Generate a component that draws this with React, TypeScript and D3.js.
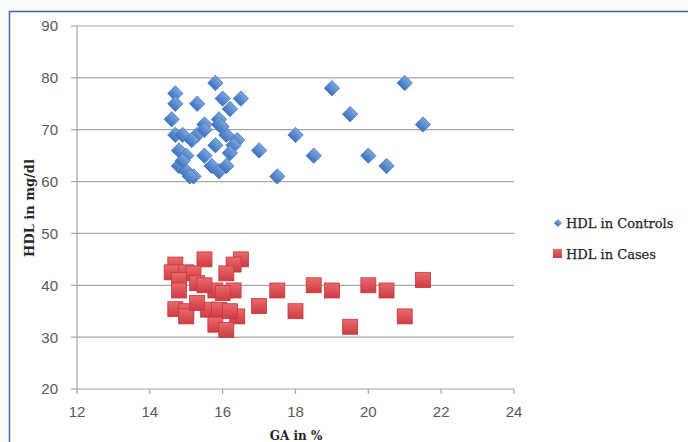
import React from "react";
import * as d3 from "d3";

const controlsGA = [15.8, 14.7, 14.7, 15.3, 16.0, 16.5, 16.2, 14.6, 15.5, 15.9, 15.9, 14.7, 14.9, 15.3, 15.5, 16.1, 16.4, 16.3, 15.8, 14.8, 15.0, 15.5, 16.2, 17.0, 14.8, 15.7, 15.9, 16.1, 15.0, 15.2, 17.5, 18.0, 18.5, 19.0, 19.5, 20.0, 20.5, 21.0, 21.5, 15.15, 15.97, 15.1, 14.9];
const controlsHDL = [79, 77, 75, 75, 76, 76, 74, 72, 71, 72, 71, 69, 69, 69, 70, 69, 68, 67, 67, 66, 65, 65, 65.5, 66, 63, 63, 62, 63, 62, 61, 61, 69, 65, 78, 73, 65, 63, 79, 71, 68, 70.6, 61, 64];

const casesGA = [15.5, 16.5, 16.3, 14.7, 14.6, 15.0, 16.1, 15.2, 15.3, 14.8, 15.8, 16.3, 14.8, 17.5, 17.0, 14.7, 15.0, 15.6, 15.9, 16.4, 15.0, 15.8, 16.1, 15.3, 18.0, 18.5, 19.0, 19.5, 20.0, 20.5, 21.0, 21.5, 15.5, 16.0, 16.2];
const casesHDL = [45, 45, 44, 44, 42.5, 42.5, 42.3, 42.3, 40.4, 41, 39, 39, 39, 39, 36, 35.4, 35, 35.3, 35.3, 34, 34, 32.4, 31.4, 36.6, 35, 40, 39, 32, 40, 39, 34, 41, 40, 38.5, 35];

const xTicks = [12, 14, 16, 18, 20, 22, 24];
const yTicks = [20, 30, 40, 50, 60, 70, 80, 90];
const seriesNames = ["HDL in Controls", "HDL in Cases"];

export default function App() {
  const x = d3.scaleLinear().domain([12, 24]).range([77, 514]);
  const y = d3.scaleLinear().domain([20, 90]).range([389, 26]);
  const diamond = d3.symbol().type(d3.symbolSquare).size(118)();
  const legendDiamond = d3.symbol().type(d3.symbolSquare).size(34)();

  return (
    <svg width={688} height={442} style={{ position: "absolute", left: 0, top: 0 }}>
      <defs>
        <linearGradient id="gBlue" x1="0" y1="0" x2="0" y2="1">
          <stop offset="0" stopColor="#7AA6E0" />
          <stop offset="1" stopColor="#3F72BE" />
        </linearGradient>
        <linearGradient id="gRed" x1="0" y1="0" x2="0" y2="1">
          <stop offset="0" stopColor="#EA6A6D" />
          <stop offset="1" stopColor="#CF3B40" />
        </linearGradient>
      </defs>
      <rect x={0} y={0} width={688} height={442} fill="#FBFBFC" />
      <rect x={9.5} y={11.5} width={700} height={460} fill="#FFFFFF" stroke="#3E65B3" strokeWidth={1.5} />
      {yTicks.map((t) => (
        <line key={"g" + t} x1={x(12)} x2={x(24)} y1={y(t)} y2={y(t)} stroke="#A6A6A6" strokeWidth={1.2} />
      ))}
      <line x1={x(12)} x2={x(12)} y1={y(90)} y2={y(20)} stroke="#A6A6A6" strokeWidth={1.2} />
      {yTicks.map((t) => (
        <g key={"y" + t}>
          <line x1={x(12) - 6} x2={x(12)} y1={y(t)} y2={y(t)} stroke="#A6A6A6" strokeWidth={1.2} />
          <text x={58} y={y(t)} dy="0.36em" textAnchor="end" fontFamily="Liberation Sans, Arial, sans-serif" fontSize={15} fill="#595959">{t}</text>
        </g>
      ))}
      {xTicks.map((t) => (
        <g key={"x" + t}>
          <line x1={x(t)} x2={x(t)} y1={y(20)} y2={y(20) + 5} stroke="#A6A6A6" strokeWidth={1.2} />
          <text x={x(t)} y={417} textAnchor="middle" fontFamily="Liberation Sans, Arial, sans-serif" fontSize={15} fill="#595959">{t}</text>
        </g>
      ))}
      <text transform={`translate(34,208) rotate(-90)`} textAnchor="middle" fontFamily="DejaVu Serif, serif" fontWeight="bold" fontSize={13} fill="#262626">HDL in mg/dl</text>
      <text x={296} y={440} textAnchor="middle" fontFamily="DejaVu Serif, serif" fontWeight="bold" fontSize={12} fill="#262626">GA in %</text>
      {controlsGA.map((g, i) => (
        <path key={"c" + i} d={diamond} transform={`translate(${x(g)},${y(controlsHDL[i])}) rotate(45)`} fill="url(#gBlue)" stroke="#4A7BC0" strokeWidth={0.8} />
      ))}
      {casesGA.map((g, i) => (
        <rect key={"r" + i} x={x(g) - 7.5} y={y(casesHDL[i]) - 7.5} width={15} height={15} fill="url(#gRed)" stroke="#C23A3E" strokeWidth={0.8} />
      ))}
      <path d={legendDiamond} transform="translate(558,223) rotate(45)" fill="url(#gBlue)" />
      <text x={566} y={228} fontFamily="DejaVu Serif, serif" fontSize={13} fill="#262626" stroke="#262626" strokeWidth={0.25}>{seriesNames[0]}</text>
      <rect x={553} y={249} width={9} height={9} fill="url(#gRed)" />
      <text x={566} y={259} fontFamily="DejaVu Serif, serif" fontSize={13} fill="#262626" stroke="#262626" strokeWidth={0.25}>{seriesNames[1]}</text>
    </svg>
  );
}
